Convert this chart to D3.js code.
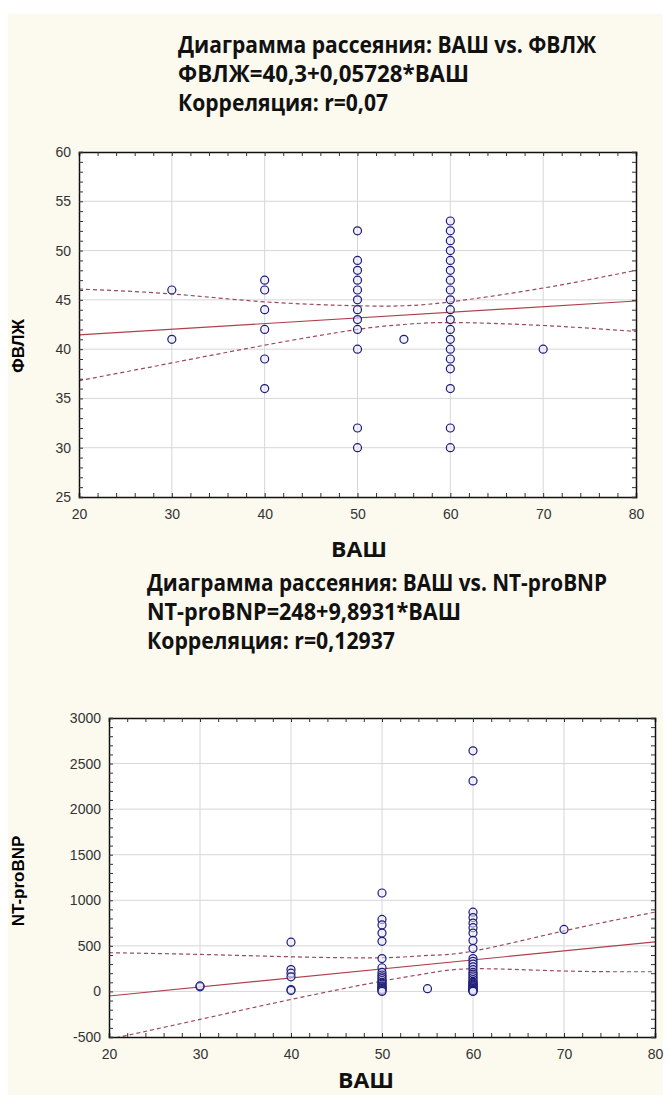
<!DOCTYPE html>
<html>
<head>
<meta charset="utf-8">
<script src="https://cdn.jsdelivr.net/npm/d3@7"></script>
<style>
  body { margin: 0; background: #ffffff; overflow: hidden; }
  .tick text { font-family: "Liberation Sans", Arial, sans-serif; font-size: 14px; fill: #333; }
  .title { font-family: "Open Sans", sans-serif; font-weight: bold; font-size: 23px; fill: #111; }
</style>
</head>
<body>
<div id="chart"></div>
<script>
var w = 671;
var h = 1095;

// ВАШ levels present in both charts
var vasLevels = [30, 40, 50, 55, 60, 70];

// top chart: ФВЛЖ values per ВАШ level
var fvlzByVas = [
  [46, 41],
  [47, 46, 44, 42, 39, 36],
  [52, 49, 48, 47, 46, 45, 44, 43, 42, 40, 32, 30],
  [41],
  [53, 52, 51, 50, 49, 48, 47, 46, 45, 44, 43, 42, 41, 40, 39, 38, 36, 32, 30],
  [40]
];
var topCoef = [40.3, 0.05728];
var topBandX = [20, 30, 40, 50, 55, 60, 70, 80];
var topUpper = [46.1, 45.6, 44.8, 44.4, 44.4, 44.8, 46.2, 48.0];
var topLower = [36.8, 38.6, 40.4, 42.0, 42.5, 42.7, 42.4, 41.8];
var topTitle = ["Диаграмма рассеяния: ВАШ vs. ФВЛЖ", "ФВЛЖ=40,3+0,05728*ВАШ", "Корреляция: r=0,07"];
var topTitleLen = [418, 291, 210];

// bottom chart: NT-proBNP values per ВАШ level
var bnpByVas = [
  [50, 60],
  [540, 240, 200, 160, 20, 10],
  [1080, 790, 730, 640, 550, 360, 260, 210, 180, 160, 140, 120, 100, 90, 80, 60, 50, 40, 30, 20, 10, 0],
  [30],
  [2640, 2310, 870, 810, 750, 700, 640, 560, 470, 360, 330, 300, 270, 240, 210, 190, 170, 150,
   130, 110, 100, 90, 80, 70, 60, 50, 40, 30, 20, 15, 10, 5, 0],
  [680]
];
var botCoef = [-248, 9.8931];
var botBandX = [20, 30, 40, 50, 55, 60, 70, 80];
var botUpper = [425, 406, 380, 370, 395, 442, 664, 870];
var botLower = [-525, -307, -88, 113, 198, 249, 224, 216];
var botTitle = ["Диаграмма рассеяния: ВАШ vs. NT-proBNP", "NT-proBNP=248+9,8931*ВАШ", "Корреляция: r=0,12937"];
var botTitleLen = [460, 314, 248];

function toPoints(groups) {
  var pts = [];
  groups.forEach(function(vals, i) {
    vals.forEach(function(v) { pts.push({x: vasLevels[i], y: v}); });
  });
  return pts;
}

var svg = d3.select("#chart").append("svg")
            .attr("width", w)
            .attr("height", h)
            .style("display", "block");

svg.append("rect")
   .attr("x", 8).attr("y", 14)
   .attr("width", w - 16).attr("height", h - 14)
   .attr("fill", "#fcf9ef");

function drawPlot(cfg) {
  var x = d3.scaleLinear().domain([20, 80]).range([cfg.left, cfg.right]);
  var y = d3.scaleLinear().domain(cfg.ydom).range([cfg.bottom, cfg.top]);
  var g = svg.append("g");

  g.append("rect")
   .attr("x", cfg.left).attr("y", cfg.top)
   .attr("width", cfg.right - cfg.left).attr("height", cfg.bottom - cfg.top)
   .attr("fill", "#fff");

  // grid
  g.selectAll("line.vg").data([30, 40, 50, 60, 70]).enter().append("line")
   .attr("x1", function(d) { return x(d); }).attr("x2", function(d) { return x(d); })
   .attr("y1", cfg.top).attr("y2", cfg.bottom)
   .attr("stroke", "#d6d6dc").attr("stroke-width", 1);
  g.selectAll("line.hg").data(cfg.yticks.slice(1, -1)).enter().append("line")
   .attr("x1", cfg.left).attr("x2", cfg.right)
   .attr("y1", function(d) { return y(d); }).attr("y2", function(d) { return y(d); })
   .attr("stroke", "#d6d6dc").attr("stroke-width", 1);

  var clipId = "clip" + cfg.top;
  g.append("clipPath").attr("id", clipId).append("rect")
   .attr("x", cfg.left).attr("y", cfg.top)
   .attr("width", cfg.right - cfg.left).attr("height", cfg.bottom - cfg.top);

  var band = d3.line()
               .x(function(d) { return x(d[0]); })
               .y(function(d) { return y(d[1]); })
               .curve(d3.curveNatural);
  [cfg.upper, cfg.lower].forEach(function(arr) {
    g.append("path")
     .datum(cfg.bandX.map(function(v, i) { return [v, arr[i]]; }))
     .attr("d", band)
     .attr("clip-path", "url(#" + clipId + ")")
     .attr("fill", "none")
     .attr("stroke", "#9a4a5a")
     .attr("stroke-width", 1.2)
     .attr("stroke-dasharray", "4,3");
  });

  g.append("line")
   .attr("x1", x(20)).attr("y1", y(cfg.coef[0] + cfg.coef[1] * 20))
   .attr("x2", x(80)).attr("y2", y(cfg.coef[0] + cfg.coef[1] * 80))
   .attr("stroke", "#b0404a").attr("stroke-width", 1.2);

  g.selectAll("circle.pt").data(cfg.points).enter().append("circle")
   .attr("class", "pt")
   .attr("cx", function(d) { return x(d.x); })
   .attr("cy", function(d) { return y(d.y); })
   .attr("r", 4)
   .attr("fill", "#e9e8fa")
   .attr("fill-opacity", 0.55)
   .attr("stroke", "#1c1c78")
   .attr("stroke-width", 1.2);

  // axes with inward ticks
  var xt = d3.range(20, 81, 2), yt = d3.range(cfg.ydom[0], cfg.ydom[1] + 0.001, cfg.ystep);
  g.append("g").attr("transform", "translate(0," + cfg.bottom + ")")
   .call(d3.axisBottom(x).tickValues(xt).tickSize(-4)
           .tickFormat(function(d) { return d % 10 === 0 ? d : ""; }))
   .call(function(a) { a.selectAll("text").attr("y", 12); });
  g.append("g").attr("transform", "translate(0," + cfg.top + ")")
   .call(d3.axisTop(x).tickValues(xt).tickSize(-4).tickFormat(""));
  g.append("g").attr("transform", "translate(" + cfg.left + ",0)")
   .call(d3.axisLeft(y).tickValues(yt).tickSize(-4)
           .tickFormat(function(d) { return cfg.yticks.indexOf(d) >= 0 ? d : ""; }))
   .call(function(a) { a.selectAll("text").attr("x", -8); });
  g.append("g").attr("transform", "translate(" + cfg.right + ",0)")
   .call(d3.axisRight(y).tickValues(yt).tickSize(-4).tickFormat(""));
  g.selectAll(".domain").attr("stroke", "#111").attr("stroke-width", 1.5);
  g.selectAll(".tick line").attr("stroke", "#333");

  g.selectAll("text.ttl").data(cfg.title).enter().append("text")
     .attr("class", "title ttl")
     .attr("x", cfg.titleX)
     .attr("y", function(d, i) { return cfg.titleY + i * 29; })
     .attr("textLength", function(d, i) { return cfg.titleLen[i]; })
     .attr("lengthAdjust", "spacingAndGlyphs")
     .text(function(d) { return d; });

  g.append("text").attr("class", "title")
     .attr("x", cfg.xlabX).attr("y", cfg.xlabY)
     .attr("text-anchor", "middle").style("font-size", "21px")
     .attr("textLength", 56).attr("lengthAdjust", "spacingAndGlyphs")
     .text("ВАШ");
  g.append("text")
     .attr("transform", "translate(24," + cfg.ylabY + ") rotate(-90)")
     .attr("text-anchor", "middle")
     .style("font-family", "Liberation Sans, Arial, sans-serif")
     .style("font-weight", "bold").style("font-size", "17px")
     .text(cfg.ylab);
}

drawPlot({left: 79, right: 636, top: 152, bottom: 497,
          ydom: [25, 60], ystep: 1, yticks: [25, 30, 35, 40, 45, 50, 55, 60],
          points: toPoints(fvlzByVas), coef: topCoef,
          bandX: topBandX, upper: topUpper, lower: topLower,
          title: topTitle, titleLen: topTitleLen, titleX: 178, titleY: 53,
          xlabX: 359, xlabY: 557, ylab: "ФВЛЖ", ylabY: 346});

drawPlot({left: 109, right: 655, top: 718, bottom: 1037,
          ydom: [-500, 3000], ystep: 100, yticks: [-500, 0, 500, 1000, 1500, 2000, 2500, 3000],
          points: toPoints(bnpByVas), coef: botCoef,
          bandX: botBandX, upper: botUpper, lower: botLower,
          title: botTitle, titleLen: botTitleLen, titleX: 147, titleY: 591,
          xlabX: 366, xlabY: 1088, ylab: "NT-proBNP", ylabY: 881});
</script>
</body>
</html>
